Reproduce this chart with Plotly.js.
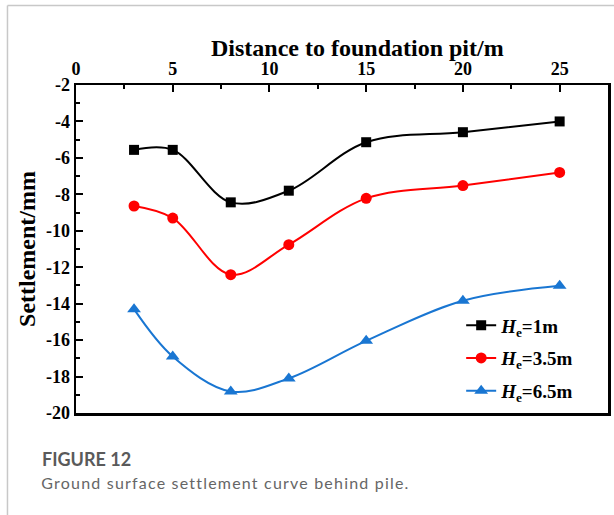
<!DOCTYPE html>
<html>
<head>
<meta charset="utf-8">
<script src="https://cdn.plot.ly/plotly-3.0.1.min.js"></script>
<style>
  html, body { margin: 0; padding: 0; background: #ffffff; }
  #chart { width: 614px; height: 515px; }
  g.annotation[data-index="2"] text { letter-spacing: 1.2px; }
</style>
</head>
<body>
<div id="chart"></div>
<script>
// Distance to foundation pit (m)
const distance = [3, 5, 8, 11, 15, 20, 25];
// Settlement (mm) for each excavation depth
const settle_He1 = [-5.56, -5.56, -8.44, -7.8, -5.14, -4.59, -4.0];
const settle_He35 = [-8.64, -9.3, -12.41, -10.76, -8.22, -7.52, -6.8];
const settle_He65 = [-14.3, -16.9, -18.82, -18.1, -16.04, -13.84, -13.02];
const seriesNames = ['<i>H</i><sub>e</sub>=1m', '<i>H</i><sub>e</sub>=3.5m', '<i>H</i><sub>e</sub>=6.5m'];
const xTicks = [0, 5, 10, 15, 20, 25];
const yTicks = [-2, -4, -6, -8, -10, -12, -14, -16, -18, -20];
const xTitle = 'Distance to foundation pit/m';
const yTitle = 'Settlement/mm';
const captionTitle = 'FIGURE 12';
const captionText = 'Ground surface settlement curve behind pile.';

const serif = 'Liberation Serif, Times New Roman, serif';

function trace(y, name, color, symbol, size, group) {
  return {
    x: distance, y: y, name: name, type: 'scatter', mode: 'lines+markers',
    legendgroup: group,
    line: { color: color, width: 2, shape: 'spline', smoothing: 1 },
    marker: { color: color, symbol: symbol, size: size }
  };
}

const data = [
  trace(settle_He1, seriesNames[0], '#000000', 'square', 10, 'g1'),
  trace(settle_He35, seriesNames[1], '#ff0000', 'circle', 11, 'g2'),
  trace(settle_He65, seriesNames[2], '#1976d2', 'triangle-up', 12, 'g3')
];

const layout = {
  width: 614, height: 515,
  margin: { l: 76, r: 6, t: 85, b: 102 },
  paper_bgcolor: '#ffffff', plot_bgcolor: '#ffffff',
  showlegend: true,
  font: { family: serif, color: '#000000' },
  xaxis: {
    side: 'top', range: [0, 27.5],
    tickvals: xTicks, ticktext: xTicks.map(String),
    ticks: 'inside', ticklen: 7, tickwidth: 2, tickcolor: '#000',
    minor: { dtick: 2.5, tick0: 0, ticks: 'inside', ticklen: 4, tickwidth: 2, tickcolor: '#000' },
    showline: true, linewidth: 2.5, linecolor: '#000', mirror: true,
    showgrid: false, zeroline: false,
    tickfont: { family: serif, size: 18, weight: 'bold' }
  },
  yaxis: {
    range: [-20, -2],
    tickvals: yTicks, ticktext: yTicks.map(String),
    ticks: 'inside', ticklen: 7, tickwidth: 2, tickcolor: '#000',
    minor: { dtick: 1, tick0: 0, ticks: 'inside', ticklen: 4, tickwidth: 2, tickcolor: '#000' },
    showline: true, linewidth: 2.5, linecolor: '#000', mirror: true,
    showgrid: false, zeroline: false,
    tickfont: { family: serif, size: 18, weight: 'bold' },
    title: { text: yTitle, font: { family: serif, size: 24, weight: 'bold' }, standoff: 4 }
  },
  legend: {
    x: 0.724, y: 0.325, xanchor: 'left', yanchor: 'top',
    bgcolor: 'rgba(0,0,0,0)', borderwidth: 0,
    font: { family: serif, size: 19, weight: 'bold', color: '#000' },
    tracegroupgap: 5
  },
  shapes: [
    { type: 'line', xref: 'paper', yref: 'paper', x0: -0.1288, x1: -0.1288, y0: 1.2424, y1: -0.32,
      line: { color: '#c8c8c8', width: 1.5 } },
    { type: 'line', xref: 'paper', yref: 'paper', x0: -0.1288, x1: 1.02, y0: 1.2424, y1: 1.2424,
      line: { color: '#c8c8c8', width: 1.5 } }
  ],
  annotations: [
    { text: xTitle, xref: 'paper', yref: 'paper', x: 0.53, y: 1.1128,
      xanchor: 'center', yanchor: 'middle', showarrow: false,
      font: { family: serif, size: 24, weight: 'bold', color: '#000' } },
    { text: '<b>' + captionTitle + '</b>', xref: 'paper', yref: 'paper', x: -0.0677, y: -0.1402,
      xanchor: 'left', yanchor: 'middle', showarrow: false,
      font: { family: 'Lato, Noto Sans, sans-serif', size: 18, color: '#5a5a5a' } },
    { text: captionText, xref: 'paper', yref: 'paper', x: -0.0677, y: -0.2134,
      xanchor: 'left', yanchor: 'middle', showarrow: false, xshift: 26,
      font: { family: 'Lato, Noto Sans, sans-serif', size: 16, color: '#666666' } }
  ]
};

Plotly.newPlot('chart', data, layout, { displayModeBar: false, staticPlot: true });
</script>
</body>
</html>
